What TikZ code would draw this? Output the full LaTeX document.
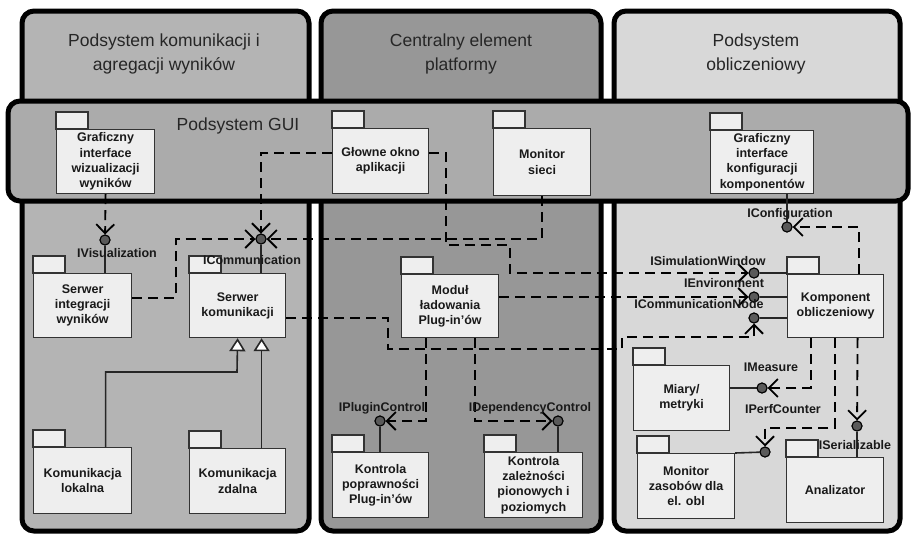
\documentclass[tikz,border=0pt]{standalone}
\usepackage{fontspec}
\setmainfont{Liberation Sans}
\usetikzlibrary{arrows.meta}
\definecolor{leftfill}{HTML}{B4B4B4}
\definecolor{midfill}{HTML}{979797}
\definecolor{rightfill}{HTML}{D8D8D8}
\definecolor{guifill}{HTML}{ABABAB}
\definecolor{pkgfill}{HTML}{EEEEEE}
\definecolor{ballfill}{HTML}{5A5A5A}
\newcommand\pkgfont{\fontsize{12.5}{15.3}\selectfont\bfseries}
\newcommand\titlefont{\fontsize{17.5}{24}\selectfont}
\newcommand\pkg[6]{%
  \draw[pkgtab] (#2,#3) rectangle ++(32,-17);
  \node[pkgmain, minimum width={#4pt-#2pt}, minimum height={#5pt-#3pt}] (#1) at (#2,#3) {#6};
}
\begin{document}
\begin{tikzpicture}[x=1pt,y=-1pt,
  colbox/.style={line width=5pt, rounded corners=12pt, draw=black},
  pkgmain/.style={draw=black!80, line width=1.2pt, fill=pkgfill, inner sep=0pt, align=center, font=\pkgfont, anchor=north west, text=black!90},
  pkgtab/.style={draw=black!80, line width=1.2pt, fill=pkgfill},
  dep/.style={line width=1.8pt, dash pattern=on 10pt off 6pt, -{Straight Barb[length=9pt,width=18pt]}},
  prov/.style={line width=1.6pt, draw=black!85},
  ball/.style={circle, draw=black, fill=ballfill, line width=1pt, minimum size=10pt, inner sep=0pt},
  ilabel/.style={font=\pkgfont, inner sep=0pt, text=black!90},
  gen/.style={line width=1.6pt, draw=black!85, -{Triangle[length=13pt,width=16pt,fill=white]}},
  title/.style={font=\titlefont, align=center, text=black!85}
]
\fill[white] (0,0) rectangle (912,536);
\useasboundingbox (0,0) rectangle (912,536);

% columns
\draw[colbox, fill=leftfill] (22,11) rectangle (309,531);
\draw[colbox, fill=midfill] (321,11) rectangle (601,531);
\draw[colbox, fill=rightfill] (614,11) rectangle (900,531);
\node[title] (t1) at (164,54) {Podsystem komunikacji i\\agregacji wyników};
\node[title] (t2) at (461,54) {Centralny element\\platformy};
\node[title] (t3) at (756,54) {Podsystem\\obliczeniowy};

% GUI band
\draw[colbox, fill=guifill] (8,101) rectangle (908,201);
\node[title] (tgui) at (238,126) {Podsystem GUI};

% packages
\pkg{gvis}{56}{129}{154}{193}{Graficzny\\interface\\wizualizacji\\wyników}
\pkg{glo}{332}{128}{428}{193}{Głowne okno\\aplikacji}
\pkg{mon}{493}{128}{590}{195}{Monitor\\sieci}
\pkg{gkon}{710}{130}{813}{193}{Graficzny\\interface\\konfiguracji\\komponentów}
\pkg{sint}{33}{273}{131}{337}{Serwer\\integracji\\wyników}
\pkg{skom}{189}{273}{285}{337}{Serwer\\komunikacji}
\pkg{mod}{401}{274}{498}{337}{Moduł\\ładowania\\Plug-in'ów}
\pkg{komp}{787}{274}{883}{337}{Komponent\\obliczeniowy}
\pkg{klok}{33}{447}{131}{513}{Komunikacja\\lokalna}
\pkg{kzd}{189}{448}{285}{513}{Komunikacja\\zdalna}
\pkg{kpop}{332}{452}{428}{517}{Kontrola\\poprawności\\Plug-in'ów}
\pkg{kzal}{484}{452}{582}{517}{Kontrola\\zależności\\pionowych i\\poziomych}
\pkg{miary}{633}{365}{729}{430}{Miary/\\metryki}
\pkg{mzas}{637}{453}{734}{518}{Monitor\\zasobów dla\\el. obl}
\pkg{anal}{786}{457}{883}{522}{Analizator}

% interface balls
\node[ball] (iVis) at (105,240) {};
\node[ball] (iCom) at (261,239) {};
\node[ball] (iConf) at (787,227) {};
\node[ball] (iSim) at (754,273) {};
\node[ball] (iEnv) at (754,297) {};
\node[ball] (iCN) at (754,318) {};
\node[ball] (iMeas) at (762,388) {};
\node[ball] (iPerf) at (765,452) {};
\node[ball] (iSer) at (857,426) {};
\node[ball] (iPlug) at (380,421) {};
\node[ball] (iDep) at (558,421) {};

\coordinate (c1) at (176,239);
\coordinate (c2) at (446,245);
\coordinate (c3) at (510,273);
\coordinate (c4) at (388,349);
\coordinate (c5) at (622,337);
\coordinate (c6) at (765,428);
\coordinate (c7) at (237,372);

% IVisualization
\draw[dep] (gvis.south) -- (iVis);
\draw[prov] (iVis) -- (iVis |- sint.north);
% ICommunication
\draw[prov] (iCom) -- (iCom |- skom.north);
\draw[dep] ([yshift=8pt]glo.west) -| (iCom);
\draw[dep] ([yshift=8pt]sint.east) -| (c1) -- (iCom);
\draw[dep] (mon.south) |- (iCom);
% ISimulationWindow
\draw[dep] ([yshift=8pt]glo.east) -| (c2) -| (c3) -- (iSim);
\draw[prov] (iSim) -- (iSim -| komp.west);
% IEnvironment
\draw[dep] (iEnv -| mod.east) -- (iEnv);
\draw[prov] (iEnv) -- (iEnv -| komp.west);
% ICommunicationNode
\draw[dep] ([yshift=-12pt]skom.east) -| (c4) -| (c5) -| (iCN);
\draw[prov] (iCN) -- (iCN -| komp.west);
% IConfiguration
\draw[prov] (iConf |- gkon.south) -- (iConf);
\draw[dep] ([xshift=23pt]komp.north) |- (iConf);
% IMeasure
\draw[prov] (iMeas -| miary.east) -- (iMeas);
\draw[dep] ([xshift=-25pt]komp.south) |- (iMeas);
% IPerfCounter
\draw[prov] (mzas.north east) -- (iPerf);
\draw[dep] ([xshift=-1pt]komp.south) |- (c6) -- (iPerf);
% ISerializable
\draw[dep] ([xshift=22pt]komp.south) -- (iSer);
\draw[prov] (iSer) -- (iSer |- anal.north);
% IPluginControl
\draw[dep] ([xshift=-24.5pt]mod.south) |- (iPlug);
\draw[prov] (iPlug) -- (iPlug |- kpop.north);
% IDependencyControl
\draw[dep] ([xshift=24.5pt]mod.south) |- (iDep);
\draw[prov] (iDep) -- (iDep |- kzal.north);
% generalizations
\draw[gen] ([xshift=23pt]klok.north) |- (c7) -- (skom.south);
\draw[gen] ([xshift=24pt]kzd.north) -- ([xshift=24pt]skom.south);

% redraw balls on top
\foreach \b in {iVis,iCom,iConf,iSim,iEnv,iCN,iMeas,iPerf,iSer,iPlug,iDep}
  \draw[ball] (\b) circle (5pt);

% labels
\node[ilabel] (lVis) at (117,253) {IVisualization};
\node[ilabel] (lCom) at (252,260) {ICommunication};
\node[ilabel] (lConf) at (790,214) {IConfiguration};
\node[ilabel] (lSim) at (708,261) {ISimulationWindow};
\node[ilabel] (lEnv) at (724,283) {IEnvironment};
\node[ilabel] (lCN) at (699,304) {ICommunicationNode};
\node[ilabel] (lPlug) at (382,408) {IPluginControl};
\node[ilabel] (lDep) at (530,408) {IDependencyControl};
\node[ilabel] (lMeas) at (771,367) {IMeasure};
\node[ilabel] (lPerf) at (783,409) {IPerfCounter};
\node[ilabel] (lSer) at (855,445) {ISerializable};
\end{tikzpicture}
\end{document}
